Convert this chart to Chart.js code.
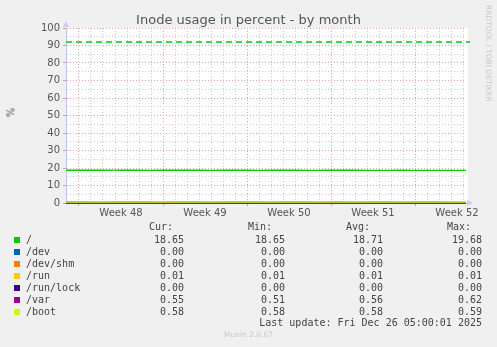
<!DOCTYPE html>
<html>
<head>
<meta charset="utf-8">
<script src="https://cdn.jsdelivr.net/npm/chart.js@4/dist/chart.umd.min.js"></script>
<style>
  html, body { margin:0; padding:0; background:#f0f0f0; }
  #wrap { position:relative; width:497px; height:347px; overflow:hidden; }
  canvas { position:absolute; left:0; top:0; }
  .t { position:absolute; white-space:pre; }
  #title { left:0; width:497px; top:12px; text-align:center; font:13px "DejaVu Sans", sans-serif; color:#555; }
  #ylab { left:6px; top:107px; font:10px "DejaVu Sans", sans-serif; color:#555; transform:rotate(-90deg); transform-origin:center; }
  #rrd { left:484px; top:5px; font:7.5px "DejaVu Sans", sans-serif; color:#c8c8c8; writing-mode:vertical-rl; }
  #munin { left:0; width:497px; top:330px; text-align:center; font:7.5px "DejaVu Sans", sans-serif; color:#c8c8c8; }
  .mono { font:10px "DejaVu Sans Mono", monospace; color:#444; line-height:12px; height:12px; }
  .sw { position:absolute; width:6px; height:6px; }
</style>
</head>
<body>
<div id="wrap">
  <canvas id="c" width="497" height="347"></canvas>
  <div id="title" class="t">Inode usage in percent - by month</div>
  <div id="ylab" class="t">%</div>
  <div id="rrd" class="t">RRDTOOL / TOBI OETIKER</div>
  <div id="munin" class="t">Munin 2.0.67</div>
  <div id="legend"></div>
</div>
<script>
// ---- data ----
const days = [0,1,2,3,4,5,6,7,8,9,10,11,12,13,14,15,16,17,18,19,20,21,22,23,24,25,26,27,28,29,30,31,32,33,34];
const seriesNames = ['/', '/dev', '/dev/shm', '/run', '/run/lock', '/var', '/boot'];
const seriesColors = ['#00cc00', '#0066b3', '#ff8000', '#ffcc00', '#330099', '#990099', '#ccff00'];
const rootVals   = [18.72,18.71,18.71,18.72,18.73,18.72,18.71,18.70,18.71,18.72,18.72,18.71,18.70,18.71,18.72,18.71,18.70,18.71,18.72,18.71,18.70,18.70,18.71,18.72,18.71,18.70,18.69,18.70,18.71,18.70,18.69,18.68,18.67,18.66,18.65];
const devVals    = [0,0,0,0,0,0,0,0,0,0,0,0,0,0,0,0,0,0,0,0,0,0,0,0,0,0,0,0,0,0,0,0,0,0,0];
const shmVals    = [0,0,0,0,0,0,0,0,0,0,0,0,0,0,0,0,0,0,0,0,0,0,0,0,0,0,0,0,0,0,0,0,0,0,0];
const runVals    = [0.01,0.01,0.01,0.01,0.01,0.01,0.01,0.01,0.01,0.01,0.01,0.01,0.01,0.01,0.01,0.01,0.01,0.01,0.01,0.01,0.01,0.01,0.01,0.01,0.01,0.01,0.01,0.01,0.01,0.01,0.01,0.01,0.01,0.01,0.01];
const lockVals   = [0,0,0,0,0,0,0,0,0,0,0,0,0,0,0,0,0,0,0,0,0,0,0,0,0,0,0,0,0,0,0,0,0,0,0];
const varVals    = [0.56,0.57,0.58,0.55,0.56,0.57,0.59,0.56,0.55,0.57,0.58,0.56,0.55,0.56,0.57,0.58,0.56,0.55,0.56,0.57,0.56,0.55,0.56,0.57,0.55,0.56,0.57,0.56,0.55,0.56,0.57,0.56,0.55,0.55,0.55];
const bootVals   = [0.58,0.58,0.58,0.58,0.58,0.58,0.58,0.58,0.58,0.58,0.58,0.58,0.58,0.58,0.58,0.58,0.58,0.58,0.58,0.58,0.58,0.58,0.58,0.58,0.58,0.58,0.58,0.58,0.58,0.58,0.58,0.58,0.58,0.58,0.58];
const warningVals = [92,92,92,92,92,92,92,92,92,92,92,92,92,92,92,92,92,92,92,92,92,92,92,92,92,92,92,92,92,92,92,92,92,92,92];
const curVals = ['18.65','0.00','0.00','0.01','0.00','0.55','0.58'];
const minVals = ['18.65','0.00','0.00','0.01','0.00','0.51','0.58'];
const avgVals = ['18.71','0.00','0.00','0.01','0.00','0.56','0.58'];
const maxVals = ['19.68','0.00','0.00','0.01','0.00','0.62','0.59'];
const weekLabels = ['Week 48','Week 49','Week 50','Week 51','Week 52'];
const firstWeekStart = 1.0833;   // day offset of first week boundary from the left of the range
const rangeDays = 33.333;
const yTicks = [0,10,20,30,40,50,60,70,80,90,100];
const lastUpdate = 'Last update: Fri Dec 26 05:00:01 2025';

// ---- legend (HTML text) ----
const leg = document.getElementById('legend');
function addText(txt, x, y, align) {
  const d = document.createElement('div');
  d.className = 't mono';
  d.textContent = txt;
  d.style.top = (y - 6) + 'px';
  if (align === 'right') { d.style.right = (497 - x) + 'px'; d.style.textAlign = 'right'; }
  else d.style.left = x + 'px';
  leg.appendChild(d);
}
const colRight = [184, 285, 383, 482];
const headers = ['Cur:', 'Min:', 'Avg:', 'Max:'];
const headerLeft = [149, 248, 346, 447];
headers.forEach((h, i) => addText(h, headerLeft[i], 227));
seriesNames.forEach((n, i) => {
  const y = 240 + i * 12;
  const sw = document.createElement('div');
  sw.className = 'sw';
  sw.style.left = '14px'; sw.style.top = (y - 3) + 'px';
  sw.style.background = seriesColors[i];
  leg.appendChild(sw);
  addText(n, 26, y);
  [curVals, minVals, avgVals, maxVals].forEach((arr, j) => addText(arr[i], colRight[j], y, 'right'));
});
addText(lastUpdate, 482, 323, 'right');

// ---- chart ----
const datasets = [];
const seriesData = [rootVals, devVals, shmVals, runVals, lockVals, varVals, bootVals];
seriesData.forEach((vals, i) => {
  datasets.push({
    label: seriesNames[i],
    data: days.map((d, k) => ({x: d, y: vals[k]})),
    borderColor: seriesColors[i], borderWidth: 1.3,
    pointRadius: 0, tension: 0, fill: false,
    order: seriesData.length - i,
    clip: { left: 0, right: 0, top: 4, bottom: 4 }
  });
});
datasets.push({
  label: 'warning',
  data: days.map((d, k) => ({x: d, y: warningVals[k]})),
  borderColor: '#00cc00', borderWidth: 1.5, borderDash: [6,4],
  pointRadius: 0, tension: 0, fill: false, order: 10,
  clip: { left: 0, right: 4, top: 4, bottom: 4 }
});

const weekMid = weekLabels.map((l, i) => firstWeekStart + 3.5 + 7 * i);
function isClose(a, b) { return Math.abs(a - b) < 1e-3; }
function dayKind(v) {
  const off = v - firstWeekStart;
  const r = Math.round(off);
  if (Math.abs(off - r) > 1e-3) return 'half';
  return (((r % 7) + 7) % 7 === 0) ? 'major' : 'minor';
}

const bgPlugin = {
  id: 'bg',
  beforeDraw(chart) {
    const {ctx, chartArea: a} = chart;
    ctx.save();
    ctx.fillStyle = '#ffffff';
    ctx.fillRect(a.left, a.top, a.right - a.left + 2, a.bottom - a.top);
    ctx.restore();
  },
  afterDraw(chart) {
    const {ctx, chartArea: a} = chart;
    ctx.save();
    ctx.fillStyle = '#c8ccf4';
    ctx.beginPath();
    ctx.moveTo(a.left - 3, a.top - 1); ctx.lineTo(a.left + 3, a.top - 1); ctx.lineTo(a.left, a.top - 7); ctx.closePath(); ctx.fill();
    ctx.beginPath();
    ctx.moveTo(a.right + 1, a.bottom - 3); ctx.lineTo(a.right + 1, a.bottom + 3); ctx.lineTo(a.right + 7, a.bottom); ctx.closePath(); ctx.fill();
    ctx.restore();
  }
};

new Chart(document.getElementById('c'), {
  type: 'line',
  data: { datasets },
  plugins: [bgPlugin],
  options: {
    responsive: false, animation: false,
    layout: { padding: { left: 0, top: 28, right: 31, bottom: 124 } },
    plugins: { legend: { display: false }, title: { display: false }, tooltip: { enabled: false } },
    scales: {
      x: {
        type: 'linear', min: 0, max: rangeDays,
        afterBuildTicks(scale) {
          const t = [];
          for (let v = firstWeekStart - 1; v <= rangeDays + 1e-6; v += 0.5) {
            if (v >= 0) t.push({ value: v });
          }
          scale.ticks = t;
        },
        afterFit(scale) { scale.height = 20; },
        ticks: {
          autoSkip: false, maxRotation: 0, minRotation: 0, padding: 1,
          font: { family: 'DejaVu Sans', size: 10 }, color: '#555',
          callback(v) {
            const i = weekMid.findIndex(m => isClose(m, v));
            return i >= 0 ? weekLabels[i] : '';
          }
        },
        grid: {
          drawOnChartArea: true, drawTicks: true, tickLength: 3,
          color(ctx) {
            const k = dayKind(ctx.tick.value);
            return k === 'major' ? '#e4a4a4' : (k === 'minor' ? '#cccccc' : 'rgba(0,0,0,0)');
          },
          tickColor(ctx) {
            const k = dayKind(ctx.tick.value);
            return k === 'major' ? '#e09a9a' : 'rgba(0,0,0,0)';
          },
          lineWidth: 1
        },
        border: { display: true, color: '#c0c4ec', width: 1, dash: [1,2] }
      },
      y: {
        min: 0, max: 100,
        afterBuildTicks(scale) {
          const t = [];
          for (let v = 0; v <= 100; v += 5) t.push({ value: v });
          scale.ticks = t;
        },
        afterFit(scale) { scale.width = 66; },
        ticks: {
          autoSkip: false, padding: 3,
          font: { family: 'DejaVu Sans', size: 10 }, color: '#555',
          callback(v) { return yTicks.includes(v) ? String(v) : ''; }
        },
        grid: {
          drawTicks: true, tickLength: 3,
          color(ctx) { return ctx.tick.value % 10 === 0 ? '#e4a4a4' : '#cccccc'; },
          tickColor(ctx) { return ctx.tick.value % 10 === 0 ? '#e09a9a' : 'rgba(0,0,0,0)'; },
          lineWidth: 1
        },
        border: { display: true, color: '#c0c4ec', width: 1, dash: [1,2] }
      }
    }
  }
});
</script>
</body>
</html>
